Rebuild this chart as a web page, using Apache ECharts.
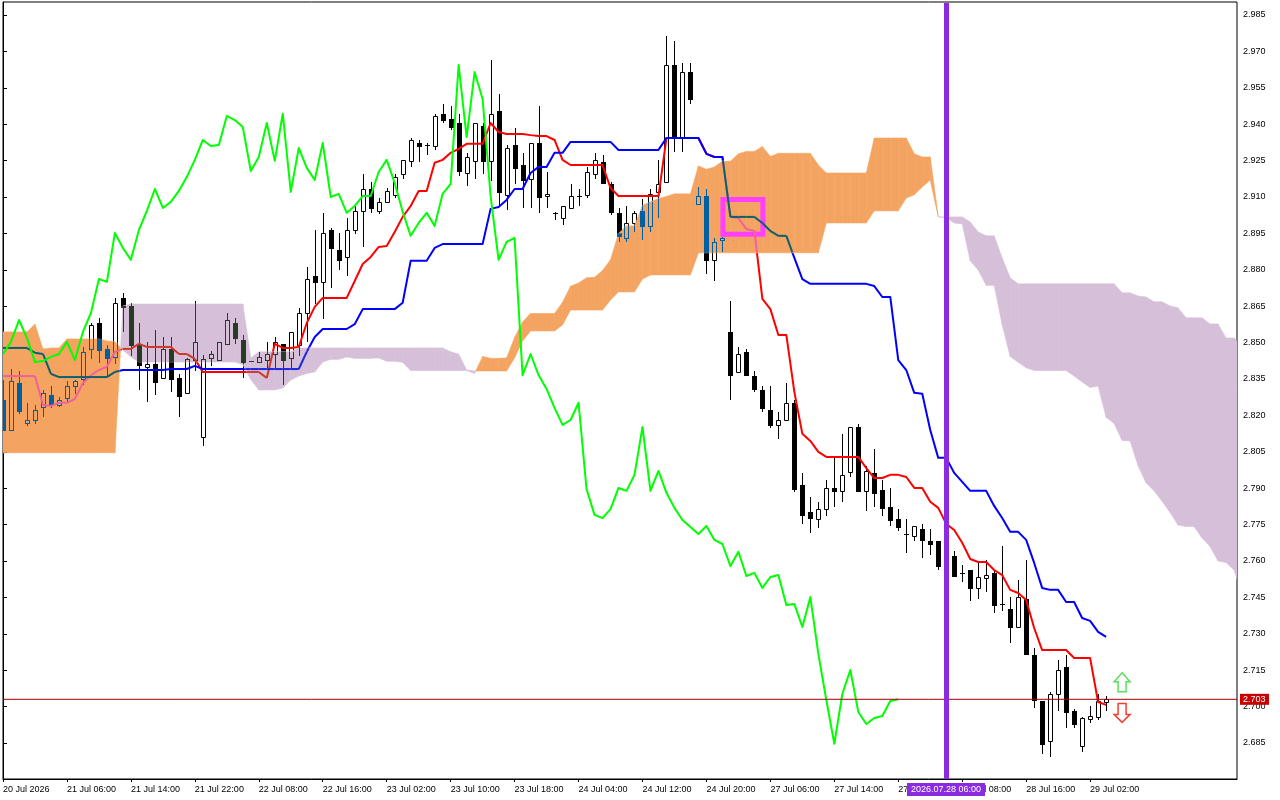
<!DOCTYPE html>
<html><head><meta charset="utf-8">
<style>html,body{margin:0;padding:0;background:#fff}#c{width:1280px;height:800px}</style>
<script src="https://cdn.jsdelivr.net/npm/echarts@6/dist/echarts.min.js"></script>
</head><body><div id="c"></div>
<script>
const priceTicks=[2.985,2.970,2.955,2.940,2.925,2.910,2.895,2.880,2.865,2.850,2.835,2.820,2.805,2.790,2.775,2.760,2.745,2.730,2.715,2.700,2.685];
const timeTicks=[0,8,16,24,32,40,48,56,64,72,80,88,96,104,112,120,128,136];
const timeLabels=["20 Jul 2026","21 Jul 06:00","21 Jul 14:00","21 Jul 22:00","22 Jul 08:00","22 Jul 16:00","23 Jul 02:00","23 Jul 10:00","23 Jul 18:00","24 Jul 04:00","24 Jul 12:00","24 Jul 20:00","27 Jul 06:00","27 Jul 14:00","27 Jul 22:00","28 Jul 08:00","28 Jul 16:00","29 Jul 02:00"];
const lastPrice=2.703;
const markerIndex=118;
const markerLabel="2026.07.28 06:00";
const boxIndex=[90.06,95.06];
const boxPrice=[2.9090,2.8946];
const arrowIndex=140;
const arrowUpPrice=2.7098;
const arrowDownPrice=2.6972;

const open=[2.8264,2.8140,2.8334,2.8169,2.8181,2.8235,2.8284,2.8243,2.8272,2.8321,2.8350,2.8474,2.8581,2.8474,2.8441,2.8684,2.8651,2.8491,2.8400,2.8412,2.8354,2.8474,2.8354,2.8293,2.8428,2.8111,2.8437,2.8428,2.8495,2.8581,2.8511,2.8424,2.8420,2.8428,2.8453,2.8495,2.8437,2.8491,2.8622,2.8775,2.8750,2.8964,2.8882,2.8853,2.8964,2.9043,2.9133,2.9043,2.9080,2.9109,2.9195,2.9249,2.9323,2.9314,2.9310,2.9443,2.9421,2.9405,2.9199,2.9249,2.9393,2.9249,2.9455,2.9109,2.9314,2.9232,2.9174,2.9323,2.9104,2.9035,2.9014,2.9055,2.9104,2.9109,2.9195,2.9245,2.9154,2.9035,2.8931,2.8993,2.9043,2.8981,2.9121,2.9162,2.9644,2.9347,2.9615,2.9072,2.9104,2.8841,2.8923,2.8544,2.8379,2.8462,2.8362,2.8305,2.8222,2.8161,2.8181,2.8252,2.7913,2.7802,2.7773,2.7814,2.7901,2.7889,2.7967,2.8152,2.7889,2.7963,2.7893,2.7823,2.7773,2.7711,2.7703,2.7732,2.7683,2.7683,2.7675,2.7621,2.7551,2.7563,2.7489,2.7530,2.7551,2.7423,2.7402,2.7328,2.7443,2.7212,2.7023,2.6859,2.7052,2.7163,2.6982,2.6838,2.6949,2.6957,2.7019];
const high=[2.8346,2.8391,2.8383,2.8252,2.8243,2.8305,2.8321,2.8276,2.8342,2.8346,2.8482,2.8581,2.8602,2.8491,2.8684,2.8705,2.8664,2.8581,2.8503,2.8552,2.8523,2.8523,2.8371,2.8437,2.8672,2.8449,2.8466,2.8503,2.8622,2.8602,2.8531,2.8424,2.8462,2.8503,2.8523,2.8495,2.8544,2.8643,2.8811,2.8964,2.9035,2.8972,2.8952,2.9013,2.9072,2.9195,2.9162,2.9096,2.9137,2.9195,2.9253,2.9343,2.9335,2.9323,2.9443,2.9484,2.9475,2.9443,2.9282,2.9405,2.9405,2.9665,2.9525,2.9314,2.9384,2.9282,2.9323,2.9475,2.9203,2.9039,2.9063,2.9154,2.9133,2.9224,2.9282,2.9273,2.9162,2.9055,2.9063,2.9043,2.9092,2.9133,2.9253,2.9763,2.9743,2.9652,2.9652,2.9141,2.9133,2.8931,2.8935,2.8672,2.8482,2.8474,2.8383,2.8321,2.8321,2.8214,2.8334,2.8264,2.7963,2.7864,2.7844,2.7934,2.8025,2.8124,2.8152,2.8165,2.7991,2.8062,2.7934,2.7901,2.7814,2.7773,2.7744,2.7753,2.7732,2.7683,2.7687,2.7642,2.7583,2.7563,2.7596,2.7604,2.7563,2.7662,2.7452,2.7522,2.7604,2.7241,2.7023,2.7061,2.7192,2.7212,2.6990,2.6957,2.7002,2.7052,2.7044];
const low=[2.8140,2.8140,2.8210,2.8161,2.8169,2.8198,2.8235,2.8239,2.8256,2.8293,2.8330,2.8437,2.8420,2.8366,2.8416,2.8548,2.8449,2.8309,2.8260,2.8289,2.8354,2.8301,2.8198,2.8293,2.8387,2.8078,2.8408,2.8428,2.8495,2.8499,2.8358,2.8424,2.8420,2.8400,2.8400,2.8330,2.8400,2.8449,2.8507,2.8664,2.8602,2.8729,2.8804,2.8779,2.8952,2.8898,2.9039,2.9035,2.9080,2.9100,2.9178,2.9228,2.9249,2.9278,2.9298,2.9409,2.9380,2.9191,2.9150,2.9178,2.9199,2.9170,2.9067,2.9051,2.9158,2.9059,2.9059,2.9039,2.9059,2.9010,2.8989,2.9055,2.9067,2.9100,2.9178,2.9158,2.9030,2.8919,2.8919,2.8960,2.8927,2.8960,2.9018,2.9162,2.9290,2.9290,2.9488,2.9072,2.8787,2.8758,2.8878,2.8268,2.8379,2.8366,2.8301,2.8218,2.8152,2.8107,2.8181,2.7889,2.7757,2.7720,2.7740,2.7790,2.7827,2.7848,2.7950,2.7889,2.7810,2.7827,2.7790,2.7748,2.7728,2.7638,2.7687,2.7617,2.7629,2.7567,2.7625,2.7538,2.7518,2.7439,2.7447,2.7477,2.7390,2.7398,2.7267,2.7328,2.7225,2.6998,2.6809,2.6796,2.6986,2.6916,2.6916,2.6817,2.6937,2.6949,2.6986];
const close=[2.8140,2.8342,2.8218,2.8181,2.8222,2.8293,2.8247,2.8264,2.8321,2.8342,2.8462,2.8573,2.8470,2.8437,2.8664,2.8647,2.8491,2.8408,2.8412,2.8338,2.8474,2.8350,2.8280,2.8433,2.8503,2.8433,2.8453,2.8503,2.8593,2.8519,2.8420,2.8424,2.8441,2.8453,2.8503,2.8428,2.8544,2.8622,2.8762,2.8750,2.8952,2.8890,2.8841,2.8964,2.9043,2.9133,2.9055,2.9080,2.9125,2.9183,2.9253,2.9335,2.9310,2.9314,2.9434,2.9417,2.9388,2.9207,2.9265,2.9405,2.9249,2.9443,2.9121,2.9302,2.9220,2.9170,2.9323,2.9100,2.9113,2.9035,2.9063,2.9104,2.9104,2.9203,2.9253,2.9158,2.9039,2.8940,2.8993,2.9035,2.8981,2.9113,2.9154,2.9644,2.9347,2.9615,2.9504,2.9104,2.8841,2.8915,2.8931,2.8366,2.8453,2.8366,2.8309,2.8231,2.8161,2.8181,2.8252,2.7897,2.7790,2.7777,2.7814,2.7901,2.7889,2.7955,2.8152,2.7889,2.7971,2.7881,2.7819,2.7769,2.7740,2.7711,2.7744,2.7687,2.7670,2.7579,2.7638,2.7538,2.7551,2.7489,2.7534,2.7542,2.7419,2.7423,2.7328,2.7452,2.7217,2.7027,2.6847,2.7052,2.7151,2.6978,2.6928,2.6953,2.6961,2.7023,2.7030];

const tenkan=[2.8362,2.8362,2.8362,2.8362,2.8362,2.8243,2.8239,2.8252,2.8252,2.8268,2.8334,2.8366,2.8387,2.8400,2.8462,2.8474,2.8474,2.8495,2.8482,2.8482,2.8482,2.8482,2.8453,2.8453,2.8433,2.8379,2.8379,2.8379,2.8379,2.8379,2.8379,2.8379,2.8379,2.8354,2.8495,2.8478,2.8478,2.8482,2.8581,2.8647,2.8684,2.8684,2.8684,2.8684,2.8754,2.8824,2.8853,2.8894,2.8898,2.8956,2.9018,2.9063,2.9125,2.9125,2.9241,2.9253,2.9282,2.9298,2.9319,2.9319,2.9319,2.9405,2.9368,2.9360,2.9360,2.9360,2.9355,2.9351,2.9351,2.9335,2.9253,2.9232,2.9232,2.9232,2.9232,2.9232,2.9137,2.9104,2.9104,2.9104,2.9104,2.9104,2.9104,2.9343,2.9343,2.9343,2.9343,2.9343,2.9278,2.9265,2.9265,2.9018,2.9013,2.8968,2.8960,2.8680,2.8638,2.8531,2.8531,2.8297,2.8124,2.8095,2.8050,2.8029,2.8029,2.8029,2.8029,2.8029,2.7983,2.7942,2.7942,2.7955,2.7955,2.7946,2.7901,2.7901,2.7844,2.7819,2.7753,2.7728,2.7675,2.7608,2.7596,2.7596,2.7563,2.7542,2.7481,2.7468,2.7439,2.7324,2.7233,2.7233,2.7233,2.7233,2.7200,2.7200,2.7200,2.7019,2.7007];
const kijun=[2.8478,2.8478,2.8478,2.8478,2.8458,2.8453,2.8371,2.8358,2.8358,2.8358,2.8358,2.8358,2.8358,2.8358,2.8379,2.8387,2.8387,2.8387,2.8387,2.8387,2.8387,2.8391,2.8391,2.8391,2.8404,2.8391,2.8391,2.8391,2.8391,2.8391,2.8391,2.8391,2.8391,2.8391,2.8391,2.8391,2.8391,2.8391,2.8462,2.8523,2.8556,2.8556,2.8556,2.8556,2.8576,2.8638,2.8638,2.8638,2.8638,2.8638,2.8664,2.8837,2.8837,2.8837,2.8890,2.8906,2.8906,2.8906,2.8906,2.8906,2.8906,2.9051,2.9059,2.9088,2.9133,2.9133,2.9199,2.9224,2.9224,2.9282,2.9282,2.9327,2.9327,2.9327,2.9327,2.9327,2.9327,2.9294,2.9294,2.9294,2.9294,2.9294,2.9294,2.9343,2.9343,2.9343,2.9343,2.9343,2.9278,2.9265,2.9265,2.9018,2.9018,2.9018,2.9018,2.8993,2.8960,2.8940,2.8940,2.8849,2.8762,2.8742,2.8742,2.8742,2.8742,2.8742,2.8742,2.8742,2.8742,2.8733,2.8688,2.8688,2.8428,2.8387,2.8293,2.8289,2.8140,2.8025,2.8025,2.7963,2.7926,2.7889,2.7889,2.7889,2.7827,2.7777,2.7720,2.7720,2.7687,2.7592,2.7489,2.7481,2.7481,2.7431,2.7431,2.7365,2.7353,2.7308,2.7287];
const chikou=[2.8453,2.8503,2.8593,2.8519,2.8420,2.8424,2.8441,2.8453,2.8503,2.8428,2.8544,2.8622,2.8762,2.8750,2.8952,2.8890,2.8841,2.8964,2.9043,2.9133,2.9055,2.9080,2.9125,2.9183,2.9253,2.9335,2.9310,2.9314,2.9434,2.9417,2.9388,2.9207,2.9265,2.9405,2.9249,2.9443,2.9121,2.9302,2.9220,2.9170,2.9323,2.9100,2.9113,2.9035,2.9063,2.9104,2.9104,2.9203,2.9253,2.9158,2.9039,2.8940,2.8993,2.9035,2.8981,2.9113,2.9154,2.9644,2.9347,2.9615,2.9504,2.9104,2.8841,2.8915,2.8931,2.8366,2.8453,2.8366,2.8309,2.8231,2.8161,2.8181,2.8252,2.7897,2.7790,2.7777,2.7814,2.7901,2.7889,2.7955,2.8152,2.7889,2.7971,2.7881,2.7819,2.7769,2.7740,2.7711,2.7744,2.7687,2.7670,2.7579,2.7638,2.7538,2.7551,2.7489,2.7534,2.7542,2.7419,2.7423,2.7328,2.7452,2.7217,2.7027,2.6847,2.7052,2.7151,2.6978,2.6928,2.6953,2.6961,2.7023,2.7030];
const spanA=[2.8544,2.8544,2.8544,2.8544,2.8576,2.8474,2.8478,2.8478,2.8515,2.8515,2.8515,2.8515,2.8515,2.8507,2.8503,2.8470,2.8441,2.8420,2.8420,2.8420,2.8420,2.8420,2.8420,2.8420,2.8420,2.8420,2.8420,2.8420,2.8420,2.8420,2.8410,2.8348,2.8305,2.8305,2.8305,2.8313,2.8346,2.8362,2.8373,2.8379,2.8420,2.8431,2.8431,2.8441,2.8435,2.8435,2.8435,2.8437,2.8423,2.8423,2.8419,2.8385,2.8385,2.8385,2.8385,2.8385,2.8385,2.8385,2.8385,2.8373,2.8443,2.8435,2.8435,2.8437,2.8521,2.8585,2.8620,2.8620,2.8620,2.8620,2.8666,2.8732,2.8746,2.8767,2.8769,2.8797,2.8841,2.8950,2.8981,2.8981,2.9065,2.9080,2.9094,2.9102,2.9113,2.9113,2.9113,2.9228,2.9214,2.9224,2.9247,2.9247,2.9278,2.9288,2.9288,2.9308,2.9267,2.9280,2.9280,2.9280,2.9280,2.9280,2.9232,2.9199,2.9199,2.9199,2.9199,2.9199,2.9199,2.9343,2.9343,2.9343,2.9343,2.9343,2.9278,2.9265,2.9265,2.9018,2.9016,2.8993,2.8989,2.8837,2.8799,2.8736,2.8736,2.8573,2.8443,2.8419,2.8396,2.8385,2.8385,2.8385,2.8385,2.8385,2.8362,2.8338,2.8315,2.8321,2.8192,2.8167,2.8097,2.8095,2.7992,2.7922,2.7889,2.7846,2.7800,2.7748,2.7742,2.7742,2.7695,2.7660,2.7600,2.7594,2.7563,2.7458];
const spanB=[2.8046,2.8046,2.8046,2.8046,2.8046,2.8046,2.8046,2.8046,2.8046,2.8046,2.8046,2.8046,2.8046,2.8046,2.8046,2.8651,2.8659,2.8659,2.8659,2.8659,2.8659,2.8659,2.8659,2.8659,2.8659,2.8659,2.8659,2.8659,2.8659,2.8659,2.8659,2.8437,2.8462,2.8462,2.8462,2.8462,2.8462,2.8478,2.8478,2.8478,2.8478,2.8478,2.8478,2.8478,2.8478,2.8478,2.8478,2.8478,2.8478,2.8478,2.8478,2.8478,2.8478,2.8478,2.8478,2.8478,2.8462,2.8453,2.8387,2.8383,2.8383,2.8383,2.8383,2.8383,2.8437,2.8507,2.8548,2.8548,2.8548,2.8548,2.8573,2.8634,2.8634,2.8634,2.8634,2.8634,2.8676,2.8709,2.8709,2.8709,2.8762,2.8779,2.8779,2.8779,2.8779,2.8779,2.8779,2.8870,2.8870,2.8870,2.8870,2.8870,2.8870,2.8870,2.8870,2.8870,2.8870,2.8870,2.8870,2.8870,2.8870,2.8870,2.8870,2.8993,2.8993,2.8993,2.8993,2.8993,2.8993,2.9043,2.9043,2.9043,2.9043,2.9096,2.9109,2.9141,2.9170,2.9018,2.9018,2.9018,2.9018,2.8997,2.8956,2.8940,2.8940,2.8849,2.8767,2.8742,2.8742,2.8742,2.8742,2.8742,2.8742,2.8742,2.8742,2.8742,2.8742,2.8742,2.8742,2.8742,2.8705,2.8705,2.8692,2.8688,2.8668,2.8668,2.8651,2.8643,2.8602,2.8602,2.8602,2.8577,2.8577,2.8519,2.8519,2.8482,2.8428];

const SAND='#F4A460',THISTLE='#D6BFD8',INK='#000000';
const TINT_SAND='#005FA0',TINT_THISTLE='#293A27';
const PURPLE='#8A2BE2',MAGENTA='#FF40FF',RED='#FF0000',BLUE='#0000FF',GREEN='#00FF00';
const FONT='"Liberation Sans"';
const X_MAX=154.375,Y_MIN=2.67016,Y_MAX=2.99036;

const chart=echarts.init(document.getElementById('c'),null,{renderer:'canvas'});
const idx=a=>a.map((v,i)=>[i,v]);

function cloudAt(i,f){
  const a=spanA[i]+(spanA[i+1]-spanA[i])*f,b=spanB[i]+(spanB[i+1]-spanB[i])*f;
  return {top:Math.max(a,b),bot:Math.min(a,b),sand:a>=b};
}
function renderBase(p,api){
  const i=api.value(0),o=open[i],c=close[i];
  const xc=Math.round(api.coord([i,o])[0])+0.5;
  const Y=v=>api.coord([i,v])[1];
  const yH=Math.round(Y(high[i])),yL=Math.round(Y(low[i]));
  const yT=Math.round(Y(Math.max(o,c))),yB=Math.round(Y(Math.min(o,c)));
  const kids=[{type:'line',shape:{x1:xc,y1:yH,x2:xc,y2:yL+1},style:{stroke:INK,lineWidth:1}}];
  if(yB-yT<1){kids.push({type:'line',shape:{x1:xc-2.5,y1:yT+.5,x2:xc+2.5,y2:yT+.5},style:{stroke:INK,lineWidth:1}});}
  else if(c>=o){kids.push({type:'rect',shape:{x:xc-2,y:yT+.5,width:4,height:yB-yT},style:{fill:'#fff',stroke:INK,lineWidth:1}});}
  else{kids.push({type:'rect',shape:{x:xc-2.5,y:yT,width:5,height:yB-yT+1},style:{fill:INK}});}
  return {type:'group',children:kids};
}
function renderCloud(p,api){
  const i=api.value(0);
  const P=(x,v)=>api.coord([x,v]);
  const a0=spanA[i],b0=spanB[i],a1=spanA[i+1],b1=spanB[i+1];
  const d0=a0-b0,d1=a1-b1,kids=[];
  const poly=(pts,fill)=>kids.push({type:'polygon',shape:{points:pts},style:{fill:fill,stroke:fill,lineWidth:0.6}});
  if(d0*d1<0){
    const t=d0/(d0-d1),m=a0+(a1-a0)*t;
    poly([P(i,a0),P(i+t,m),P(i,b0)],d0>=0?SAND:THISTLE);
    poly([P(i+t,m),P(i+1,a1),P(i+1,b1)],d1>=0?SAND:THISTLE);
  }else{
    poly([P(i,a0),P(i+1,a1),P(i+1,b1),P(i,b0)],(d0+d1)>=0?SAND:THISTLE);
  }
  return {type:'group',children:kids};
}
function renderTint(p,api){
  const i=api.value(0),o=open[i],c=close[i];
  const cl=cloudAt(Math.min(i,spanA.length-2),0);
  const col=cl.sand?TINT_SAND:TINT_THISTLE;
  const Y=v=>api.coord([i,v])[1];
  const xc=Math.round(api.coord([i,o])[0])+0.5;
  const cT=Y(cl.top),cB=Y(cl.bot);
  const yH=Math.round(Y(high[i])),yL=Math.round(Y(low[i]));
  const yT=Math.round(Y(Math.max(o,c))),yB=Math.round(Y(Math.min(o,c)));
  const kids=[];
  const seg=(x,y0,y1)=>{const a=Math.max(y0,cT),b=Math.min(y1,cB);if(b>a)kids.push({type:'line',shape:{x1:x,y1:a,x2:x,y2:b},style:{stroke:col,lineWidth:1}});};
  seg(xc,yH,yT);seg(xc,yB,yL+1);
  if(yB-yT<1){if(yT>=cT&&yT<=cB)kids.push({type:'line',shape:{x1:xc-2.5,y1:yT+.5,x2:xc+2.5,y2:yT+.5},style:{stroke:col,lineWidth:1}});}
  else if(c>=o){
    seg(xc-2,yT,yB+1);seg(xc+2,yT,yB+1);
    [yT,yB].forEach(y=>{if(y>=cT&&y<=cB)kids.push({type:'line',shape:{x1:xc-2.5,y1:y+.5,x2:xc+2.5,y2:y+.5},style:{stroke:col,lineWidth:1}});});
  }else{
    const a=Math.max(yT,cT),b=Math.min(yB+1,cB);
    if(b>a)kids.push({type:'rect',shape:{x:xc-2.5,y:a,width:5,height:b-a},style:{fill:col}});
  }
  return {type:'group',children:kids};
}
function lineTint(values,onSand,onThistle){
  return function(p,api){
    const i=api.value(0),kids=[],N=16;
    let run=null,runCol=null;
    const flush=()=>{if(run&&run.length>1)kids.push({type:'polyline',shape:{points:run},style:{stroke:runCol,lineWidth:2,fill:null,lineJoin:'round'}});run=null;};
    for(let s=0;s<N;s++){
      const f0=s/N,f1=(s+1)/N,fm=(f0+f1)/2;
      const vm=values[i]+(values[i+1]-values[i])*fm;
      const cl=cloudAt(i,fm);
      const inside=vm<=cl.top&&vm>=cl.bot;
      if(inside){
        const col=cl.sand?onSand:onThistle;
        const p0=api.coord([i+f0,values[i]+(values[i+1]-values[i])*f0]),p1=api.coord([i+f1,values[i]+(values[i+1]-values[i])*f1]);
        if(!run||runCol!==col){flush();run=[p0];runCol=col;}
        run.push(p1);
      }else flush();
    }
    flush();
    return {type:'group',children:kids};
  };
}
const option={
  animation:false,backgroundColor:'#fff',
  grid:{left:2,top:2,width:1235,height:777,show:true,borderColor:INK,borderWidth:1,backgroundColor:'#fff',containLabel:false},
  xAxis:{type:'value',min:0,max:X_MAX,splitLine:{show:false},
    axisLine:{show:true,lineStyle:{color:INK,width:1}},
    axisTick:{show:true,length:3,lineStyle:{color:INK},customValues:timeTicks},
    axisLabel:{show:true,customValues:timeTicks,color:INK,fontFamily:FONT,fontSize:9,margin:6,align:'left',hideOverlap:false,
      formatter:v=>timeLabels[timeTicks.indexOf(v)]||''}},
  yAxis:{type:'value',position:'right',min:Y_MIN,max:Y_MAX,splitLine:{show:false},
    axisLine:{show:true,lineStyle:{color:INK,width:1}},
    axisTick:{show:true,length:4,lineStyle:{color:INK},customValues:priceTicks},
    axisLabel:{show:true,customValues:priceTicks,color:INK,fontFamily:FONT,fontSize:9,margin:6,hideOverlap:false,
      formatter:v=>v.toFixed(3)}},
  series:[
    {type:'custom',name:'candles',z:2,clip:true,silent:true,data:idx(close),encode:{x:0,y:1},renderItem:renderBase},
    {type:'line',name:'tenkan',z:3,symbol:'none',silent:true,data:idx(tenkan),lineStyle:{color:RED,width:2,join:'round'}},
    {type:'line',name:'kijun',z:3,symbol:'none',silent:true,data:idx(kijun),lineStyle:{color:BLUE,width:2,join:'round'}},
    {type:'custom',name:'cloud',z:4,clip:true,silent:true,data:idx(spanA.slice(0,-1)),encode:{x:0,y:1},renderItem:renderCloud},
    {type:'custom',name:'candlesTint',z:5,clip:true,silent:true,data:idx(close),encode:{x:0,y:1},renderItem:renderTint},
    {type:'custom',name:'box',z:6,silent:true,data:[[boxIndex[0],boxPrice[0],boxIndex[1],boxPrice[1]]],encode:{x:0,y:1},
      renderItem:(p,api)=>{const a=api.coord([api.value(0),api.value(1)]),b=api.coord([api.value(2),api.value(3)]);
        return {type:'rect',shape:{x:a[0],y:a[1],width:b[0]-a[0],height:b[1]-a[1]},style:{fill:null,stroke:MAGENTA,lineWidth:5}};}},
    {type:'custom',name:'tenkanTint',z:7,clip:true,silent:true,data:idx(tenkan.slice(0,-1)),encode:{x:0,y:1},renderItem:lineTint(tenkan,'#F0609F','#D0382B')},
    {type:'custom',name:'kijunTint',z:7,clip:true,silent:true,data:idx(kijun.slice(0,-1)),encode:{x:0,y:1},renderItem:lineTint(kijun,'#0B5F6E','#1A28E0')},
    {type:'line',name:'chikou',z:8,symbol:'none',silent:true,data:idx(chikou),lineStyle:{color:GREEN,width:2,join:'round'}},
    {type:'line',name:'last',z:9,symbol:'none',silent:true,data:[[0,lastPrice],[X_MAX,lastPrice]],lineStyle:{color:'#A00000',width:1}},
    {type:'custom',name:'marker',z:10,silent:true,data:[[markerIndex,Y_MIN]],encode:{x:0,y:1},
      renderItem:(p,api)=>{const b=api.coord([markerIndex,Y_MIN]),t=api.coord([markerIndex,Y_MAX]);const x=Math.round(b[0]);
        return {type:'group',children:[
          {type:'rect',shape:{x:x-2,y:t[1]+1,width:5,height:b[1]-t[1]-1},style:{fill:PURPLE}},
          {type:'rect',shape:{x:x-39,y:b[1]+4,width:78,height:13},style:{fill:PURPLE}},
          {type:'text',style:{x:x,y:b[1]+10.5,text:markerLabel,fill:'#fff',font:'9px '+FONT,textAlign:'center',textVerticalAlign:'middle'}}]};}},
    {type:'custom',name:'lastTag',z:10,silent:true,data:[[X_MAX,lastPrice]],encode:{x:0,y:1},
      renderItem:(p,api)=>{const c=api.coord([X_MAX,lastPrice]);
        return {type:'group',children:[
          {type:'rect',shape:{x:c[0]+3,y:c[1]-5.5,width:29,height:11},style:{fill:'#C80000'}},
          {type:'text',style:{x:c[0]+6,y:c[1],text:lastPrice.toFixed(3),fill:'#fff',font:'9px '+FONT,textAlign:'left',textVerticalAlign:'middle'}}]};}},
    {type:'custom',name:'arrows',z:10,silent:true,data:[[arrowIndex,arrowUpPrice],[arrowIndex,arrowDownPrice]],encode:{x:0,y:1},
      renderItem:(p,api)=>{const c=api.coord([api.value(0),api.value(1)]),up=p.dataIndex===0,x=c[0],y=c[1];
        const pts=up?[[x,y-10],[x+8,y-1],[x+4,y-1],[x+4,y+9],[x-4,y+9],[x-4,y-1],[x-8,y-1]]
                    :[[x-4,y-10],[x+4,y-10],[x+4,y+1],[x+8,y+1],[x,y+9],[x-8,y+1],[x-4,y+1]];
        return {type:'polygon',shape:{points:pts},style:{fill:'#fff',stroke:up?'#55E055':'#F04030',lineWidth:1.5}};}}
  ]
};
chart.setOption(option);
</script></body></html>
